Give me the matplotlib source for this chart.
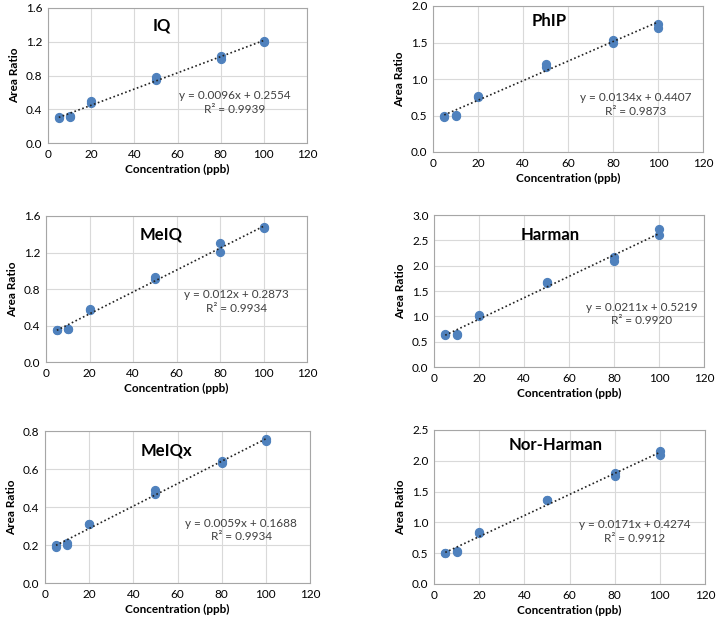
import numpy as np
import matplotlib.pyplot as plt
from matplotlib.ticker import FormatStrFormatter

plt.rcParams['font.family'] = ['Lato', 'DejaVu Sans']

conc = [5, 5, 10, 10, 20, 20, 50, 50, 80, 80, 100, 100]

names = ["IQ", "PhIP", "MeIQ", "Harman", "MeIQx", "Nor-Harman"]

iq = [0.30, 0.31, 0.31, 0.32, 0.48, 0.50, 0.75, 0.78, 1.00, 1.03, 1.20, 1.21]
phip = [0.48, 0.50, 0.50, 0.51, 0.75, 0.77, 1.17, 1.21, 1.50, 1.53, 1.70, 1.76]
meiq = [0.35, 0.35, 0.36, 0.36, 0.57, 0.58, 0.91, 0.93, 1.21, 1.30, 1.47, 1.48]
harman = [0.64, 0.65, 0.64, 0.66, 1.00, 1.02, 1.65, 1.68, 2.10, 2.18, 2.60, 2.73]
meiqx = [0.19, 0.20, 0.20, 0.21, 0.31, 0.31, 0.47, 0.49, 0.63, 0.64, 0.75, 0.76]
norharman = [0.50, 0.51, 0.52, 0.53, 0.82, 0.84, 1.36, 1.37, 1.75, 1.81, 2.10, 2.16]

slopes = [0.0096, 0.0134, 0.012, 0.0211, 0.0059, 0.0171]
intercepts = [0.2554, 0.4407, 0.2873, 0.5219, 0.1688, 0.4274]
r2 = ["0.9939", "0.9873", "0.9934", "0.9920", "0.9934", "0.9912"]

ymax = [1.6, 2.0, 1.6, 3.0, 0.8, 2.5]
ystep = [0.4, 0.5, 0.4, 0.5, 0.2, 0.5]

# axes boxes in pixels: left, top, right, bottom
boxes = [(48, 8, 307, 143), (433, 6, 703, 152),
         (46, 216, 307, 362), (434, 215, 704, 367),
         (45, 431, 310, 583), (434, 430, 705, 584)]
title_pos = [(0.44, 0.87), (0.43, 0.90), (0.44, 0.87), (0.43, 0.87), (0.46, 0.87), (0.45, 0.90)]
eq_pos = [(0.72, 0.39), (0.75, 0.41), (0.73, 0.50), (0.77, 0.43), (0.74, 0.43), (0.74, 0.42)]

series = [iq, phip, meiq, harman, meiqx, norharman]

W, H = 716, 625
fig = plt.figure(figsize=(W / 100, H / 100), dpi=100)

for i in range(6):
    l, t, r, b = boxes[i]
    ax = fig.add_axes([l / W, 1 - b / H, (r - l) / W, (b - t) / H])
    ax.set_axisbelow(True)
    ax.grid(True, color="#d9d9d9", linewidth=0.8)
    ax.scatter(conc, series[i], s=32, color="#4f81bd", zorder=3)
    xs = np.array([5, 100])
    ax.plot(xs, slopes[i] * xs + intercepts[i], linestyle=(0, (1, 1.5)), color="#222222",
            linewidth=1.2, zorder=4)
    ax.set_xlim(0, 120)
    ax.set_ylim(0, ymax[i])
    ax.set_xticks(np.arange(0, 121, 20))
    ax.set_yticks(np.arange(0, ymax[i] + 1e-9, ystep[i]))
    ax.yaxis.set_major_formatter(FormatStrFormatter("%.1f"))
    ax.tick_params(length=0, labelsize=8.5, pad=4)
    for s in ax.spines.values():
        s.set_color("#a6a6a6")
    ax.set_xlabel("Concentration (ppb)", fontsize=8.5, fontweight="bold", labelpad=3)
    ax.set_ylabel("Area Ratio", fontsize=8.5, fontweight="bold", labelpad=4)
    ax.text(title_pos[i][0], title_pos[i][1], names[i], transform=ax.transAxes,
            ha="center", va="center", fontsize=12, fontweight="bold")
    sign = "+"
    eq = "y = %gx %s %.4f\nR² = %s" % (slopes[i], sign, intercepts[i], r2[i])
    ax.text(eq_pos[i][0], eq_pos[i][1], eq, transform=ax.transAxes,
            ha="center", va="top", fontsize=8.5, color="#404040", linespacing=1.3)

fig.savefig("out.png", dpi=100)
